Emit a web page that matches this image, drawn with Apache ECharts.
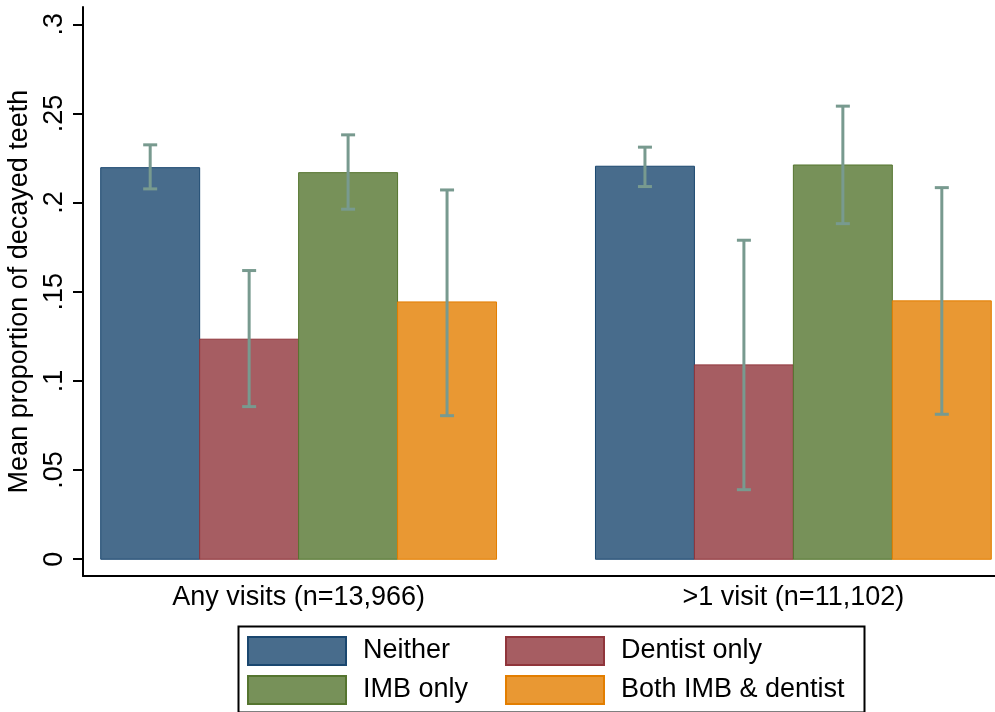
<!DOCTYPE html>
<html>
<head>
<meta charset="utf-8">
<script src="https://cdn.jsdelivr.net/npm/echarts@6/dist/echarts.min.js"></script>
<style>
  html, body { margin: 0; padding: 0; background: #fff; }
  #chart { width: 995px; height: 712px; }
</style>
</head>
<body>
<div id="chart"></div>
<script>
// groups on the x axis
const groups = ['Any visits (n=13,966)', '>1 visit (n=11,102)'];
const seriesNames = ['Neither', 'Dentist only', 'IMB only', 'Both IMB & dentist'];

// mean proportion, one value per group
const neitherMean = [0.2196, 0.2204];
const dentistMean = [0.1234, 0.1090];
const imbMean = [0.2168, 0.2211];
const bothMean = [0.1443, 0.1449];

// confidence interval bounds
const neitherLow = [0.2077, 0.2090];
const neitherHigh = [0.2324, 0.2311];
const dentistLow = [0.0856, 0.0390];
const dentistHigh = [0.1619, 0.1789];
const imbLow = [0.1963, 0.1882];
const imbHigh = [0.2380, 0.2541];
const bothLow = [0.0805, 0.0813];
const bothHigh = [0.2071, 0.2084];

const yTicks = [0, 0.05, 0.1, 0.15, 0.2, 0.25, 0.3];

const means = [neitherMean, dentistMean, imbMean, bothMean];
const lows = [neitherLow, dentistLow, imbLow, bothLow];
const highs = [neitherHigh, dentistHigh, imbHigh, bothHigh];

const fills = ['#486c8c', '#a65d62', '#779159', '#e99833'];
const borders = ['#1a476f', '#90353b', '#55752f', '#e37e00'];
const errColor = '#789a8f';
const FONT = 'Liberation Sans, Arial, sans-serif';
const FS = 27;

// bars are one unit wide, 4 per group, one empty unit between groups
const perGroup = 5;

function makeSeries(i) {
  const data = groups.map((g, gi) => [gi, means[i][gi], lows[i][gi], highs[i][gi]]);
  return {
    name: seriesNames[i],
    type: 'custom',
    itemStyle: { color: fills[i], borderColor: borders[i], borderWidth: 1 },
    data: data,
    encode: { x: 0, y: [1, 2, 3] },
    renderItem: function (params, api) {
      const x0 = api.value(0) * perGroup + i;
      const top = api.coord([x0, api.value(1)]);
      const base = api.coord([x0 + 1, 0]);
      const hi = api.coord([x0 + 0.5, api.value(3)]);
      const lo = api.coord([x0 + 0.5, api.value(2)]);
      const cap = 7;
      return {
        type: 'group',
        children: [
          {
            type: 'rect',
            shape: { x: top[0], y: top[1], width: base[0] - top[0], height: base[1] - top[1] },
            style: { fill: fills[i], stroke: borders[i], lineWidth: 1 }
          },
          {
            type: 'line',
            shape: { x1: hi[0], y1: hi[1], x2: lo[0], y2: lo[1] },
            style: { stroke: errColor, lineWidth: 3 }
          },
          {
            type: 'line',
            shape: { x1: hi[0] - cap, y1: hi[1], x2: hi[0] + cap, y2: hi[1] },
            style: { stroke: errColor, lineWidth: 3 }
          },
          {
            type: 'line',
            shape: { x1: lo[0] - cap, y1: lo[1], x2: lo[0] + cap, y2: lo[1] },
            style: { stroke: errColor, lineWidth: 3 }
          }
        ]
      };
    }
  };
}

const chart = echarts.init(document.getElementById('chart'));

const legendText = { fontSize: FS, fontFamily: FONT, color: '#000', padding: [0, 0, 0, 12] };

chart.setOption({
  animation: false,
  backgroundColor: '#fff',
  grid: { left: 83, top: 7, width: 926, bottom: 136, outerBoundsMode: 'none', containLabel: false },
  xAxis: {
    type: 'value',
    min: -0.179,
    max: 9.179,
    axisLine: { show: true, onZero: false, lineStyle: { color: '#000', width: 2 } },
    axisTick: { show: false },
    splitLine: { show: false },
    axisLabel: {
      customValues: [2, 7],
      margin: 8,
      fontSize: FS,
      fontFamily: FONT,
      color: '#000',
      formatter: v => groups[Math.round((v - 2) / perGroup)]
    }
  },
  yAxis: {
    type: 'value',
    min: -0.0094,
    max: 0.3097,
    name: 'Mean proportion of decayed teeth',
    nameLocation: 'middle',
    nameGap: 50,
    nameMoveOverlap: false,
    nameTextStyle: { fontSize: FS, fontFamily: FONT, color: '#000' },
    axisLine: { show: true, onZero: false, lineStyle: { color: '#000', width: 2 } },
    axisTick: { show: true, customValues: yTicks, length: 10, lineStyle: { color: '#000', width: 2 } },
    splitLine: { show: false },
    axisLabel: {
      customValues: yTicks,
      rotate: 90,
      margin: 15,
      fontSize: FS,
      fontFamily: FONT,
      color: '#000',
      formatter: v => (v === 0 ? '0' : String(v).replace(/^0/, ''))
    }
  },
  legend: [
    {
      data: [seriesNames[0], seriesNames[2]],
      orient: 'vertical',
      left: 247,
      top: 636,
      padding: 0,
      itemWidth: 98,
      itemHeight: 28,
      itemGap: 9,
      icon: 'rect',
      selectedMode: false,
      textStyle: legendText
    },
    {
      data: [seriesNames[1], seriesNames[3]],
      orient: 'vertical',
      left: 505,
      top: 636,
      padding: 0,
      itemWidth: 98,
      itemHeight: 28,
      itemGap: 9,
      icon: 'rect',
      selectedMode: false,
      textStyle: legendText
    }
  ],
  // legend frame
  graphic: [
    {
      type: 'rect',
      left: 236,
      top: 624,
      shape: { width: 626, height: 86 },
      style: { fill: 'none', stroke: '#000', lineWidth: 2 },
      silent: true
    }
  ],
  series: seriesNames.map((n, i) => makeSeries(i))
});
</script>
</body>
</html>
